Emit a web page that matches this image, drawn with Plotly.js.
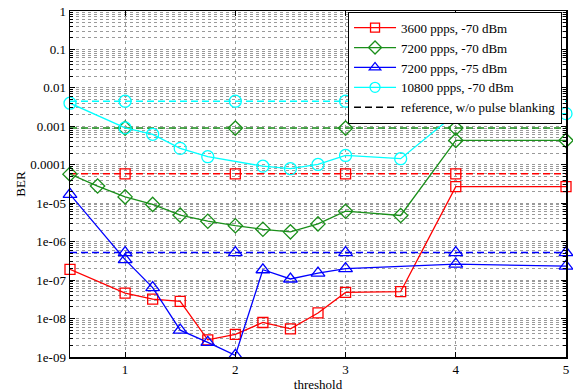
<!DOCTYPE html>
<html>
<head>
<meta charset="utf-8">
<script src="https://cdn.plot.ly/plotly-3.0.1.min.js"></script>
<style>html,body{margin:0;padding:0;background:#fff;}#chart{width:573px;height:392px;}</style>
</head>
<body>
<div id="chart"></div>
<script>
// ---- data ----
const seriesNames = ["3600 ppps, -70 dBm", "7200 ppps, -70 dBm", "7200 ppps, -75 dBm", "10800 ppps, -70 dBm"];
const refName = "reference, w/o pulse blanking";

const redX = [0.5, 1, 1.25, 1.5, 1.75, 2, 2.25, 2.5, 2.75, 3, 3.5, 4, 5];
const redY = [1.9e-7, 4.6e-8, 3.2e-8, 2.8e-8, 2.8e-9, 3.9e-9, 7.9e-9, 5.4e-9, 1.4e-8, 4.8e-8, 5.0e-8, 2.7e-5, 2.7e-5];

const greenX = [0.5, 0.75, 1, 1.25, 1.5, 1.75, 2, 2.25, 2.5, 2.75, 3, 3.5, 4, 5];
const greenY = [5.7e-5, 2.8e-5, 1.46e-5, 9.3e-6, 4.9e-6, 3.4e-6, 2.6e-6, 2.1e-6, 1.8e-6, 2.9e-6, 6.2e-6, 4.8e-6, 4.3e-4, 4.3e-4];

const blueX = [0.5, 1, 1.25, 1.5, 1.75, 2, 2.25, 2.5, 2.75, 3, 4, 5];
const blueY = [1.7e-5, 3.4e-7, 6.4e-8, 5.0e-9, 2.4e-9, 1.1e-9, 1.86e-7, 1.07e-7, 1.52e-7, 2.0e-7, 2.6e-7, 2.3e-7];

const cyanX = [0.5, 1, 1.25, 1.5, 1.75, 2.25, 2.5, 2.75, 3, 3.5, 4, 5];
const cyanY = [4.0e-3, 9.1e-4, 6.2e-4, 2.67e-4, 1.62e-4, 9.2e-5, 7.9e-5, 1.02e-4, 1.75e-4, 1.44e-4, 2.14e-3, 2.14e-3];

// reference levels (w/o pulse blanking) and where their markers sit
const refLevels = [5.8e-5, 9.0e-4, 5.2e-7, 4.5e-3];
const refLineX = [0.5, 5];
const refMarkX = [[1, 2, 3, 4], [1, 2, 3, 4], [1, 2, 3, 4, 5], [1, 2, 3, 4]];

const xTickVals = [1, 2, 3, 4, 5];
const yTickVals = [1, 0.1, 0.01, 0.001, 0.0001, 1e-5, 1e-6, 1e-7, 1e-8, 1e-9];
const yTickText = ["1", "0.1", "0.01", "0.001", "0.0001", "1e-05", "1e-06", "1e-07", "1e-08", "1e-09"];

// ---- styles ----
const colors = ["#ff0000", "#1a8f1a", "#0000ff", "#00ffff"];
const symbols = ["square-open", "diamond-open", "triangle-up-open", "circle-open"];
const sizes = [10, 11, 12, 12];
const legendSizes = [9, 10, 10, 10];
const serif = "Liberation Serif, Times New Roman, serif";

const xs = [redX, greenX, blueX, cyanX];
const ys = [redY, greenY, blueY, cyanY];

const traces = [];
// reference dashed lines + their markers (drawn first)
for (let i = 0; i < 4; i++) {
  traces.push({
    x: refLineX, y: refLineX.map(() => refLevels[i]), mode: "lines",
    line: {color: colors[i], width: 1.5, dash: "7px,4px"},
    showlegend: false, hoverinfo: "skip", cliponaxis: false
  });
  traces.push({
    x: refMarkX[i], y: refMarkX[i].map(() => refLevels[i]), mode: "markers",
    marker: {symbol: symbols[i], size: sizes[i], color: colors[i], line: {color: colors[i], width: 1.3}},
    showlegend: false, hoverinfo: "skip", cliponaxis: false
  });
}
// measured series
for (let i = 0; i < 4; i++) {
  traces.push({
    x: xs[i], y: ys[i], name: seriesNames[i], mode: "lines+markers",
    line: {color: colors[i], width: 1.3},
    marker: {symbol: symbols[i], size: sizes[i], color: colors[i], line: {color: colors[i], width: 1.3}},
    cliponaxis: false, showlegend: false
  });
}
// legend-only entries (smaller symbols so rows stay compact)
for (let i = 0; i < 4; i++) {
  traces.push({
    x: [null], y: [null], name: seriesNames[i], mode: "lines+markers",
    line: {color: colors[i], width: 1.3},
    marker: {symbol: symbols[i], size: legendSizes[i], color: colors[i], line: {color: colors[i], width: 1.3}}
  });
}
traces.push({
  x: [null], y: [null], name: refName, mode: "lines",
  line: {color: "#000000", width: 1.5, dash: "7px,4px"}
});

const gridCol = "#9a9a9a";
const layout = {
  width: 573, height: 392,
  margin: {l: 70, r: 7, t: 11, b: 35},
  paper_bgcolor: "#ffffff", plot_bgcolor: "#ffffff",
  font: {family: serif, size: 13, color: "#000"},
  showlegend: true,
  legend: {
    x: 0.992, xanchor: "right", y: 0.998, yanchor: "top",
    bgcolor: "#ffffff", bordercolor: "#000000", borderwidth: 1,
    font: {family: serif, size: 13, color: "#000"},
    itemwidth: 42,
    tracegroupgap: 0
  },
  xaxis: {
    range: [0.5, 5], tickmode: "array", tickvals: xTickVals,
    showgrid: true, gridcolor: gridCol, griddash: "dot", gridwidth: 1,
    zeroline: false, showline: true, linecolor: "#000", linewidth: 1.5, mirror: "ticks",
    ticks: "inside", ticklen: 5, tickcolor: "#000",
    tickfont: {family: serif, size: 13},
    title: {text: "threshold", font: {family: serif, size: 13}, standoff: 3}
  },
  yaxis: {
    type: "log", range: [-9, 0], tickmode: "array", tickvals: yTickVals, ticktext: yTickText,
    showgrid: true, gridcolor: gridCol, griddash: "dot", gridwidth: 1,
    zeroline: false, showline: true, linecolor: "#000", linewidth: 1.5, mirror: "ticks",
    ticks: "inside", ticklen: 5, tickcolor: "#000",
    tickfont: {family: serif, size: 13},
    minor: {showgrid: true, gridcolor: gridCol, griddash: "dot", gridwidth: 1, dtick: "D1", ticks: "inside", ticklen: 3, tickcolor: "#000"},
    title: {text: "BER", font: {family: serif, size: 13}, standoff: 1}
  }
};

Plotly.newPlot("chart", traces, layout, {displayModeBar: false, staticPlot: true});
</script>
</body>
</html>
